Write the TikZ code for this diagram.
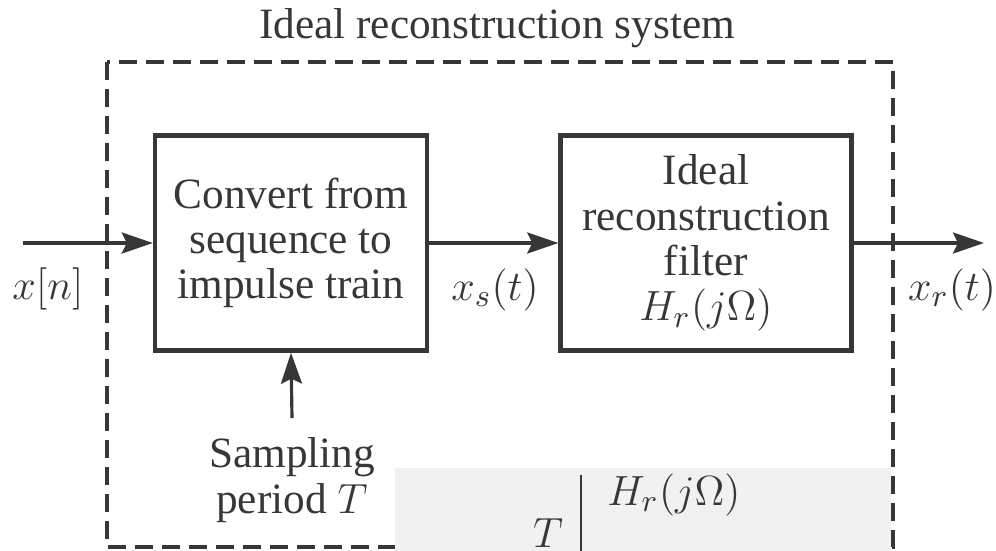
\documentclass[tikz,border=0pt]{standalone}
\usepackage{fontspec}
\setmainfont{Liberation Serif}
\usetikzlibrary{arrows.meta, positioning}
\definecolor{inkgray}{RGB}{55,55,55}
\definecolor{patchgray}{RGB}{241,241,241}

\begin{document}
\begin{tikzpicture}[
    x=0.01cm, y=-0.01cm,
    >={Stealth[length=3.1mm, width=2.1mm, inset=0.5mm]},
    every node/.style={text=inkgray, font=\fontsize{12.3}{12.9}\selectfont},
    block/.style={draw=inkgray, line width=1.2pt, align=center, minimum height=2.15cm, inner sep=0pt},
    sig/.style={->, draw=inkgray, line width=0.9pt},
    frame/.style={draw=inkgray, line width=1pt, dash pattern=on 1.8mm off 0.9mm},
]
    \useasboundingbox (0,0) rectangle (996,551);

    % Dashed system boundary
    \node (title) at (497,28) {Ideal reconstruction system};
    \draw[frame] (107,62) rectangle (893,547);

    % Blocks
    \node[block, minimum width=2.72cm] (conv) at (291,243) {Convert from\\sequence to\\impulse train};
    \node[block, minimum width=2.91cm] (filt) at (706,243) {Ideal\\reconstruction\\filter\\$H_r(j\Omega)$};

    % Signals
    \coordinate (in) at (23,243);
    \coordinate (out) at (984,243);
    \coordinate (samp) at (292,418);
    \draw[sig] (in) -- (conv);
    \draw[sig] (conv) -- (filt);
    \draw[sig] (filt) -- (out);
    \draw[sig] (samp) -- (conv.south);

    \node (xn) at (48,289) {$x[n]$};
    \node (xs) at (495,290) {$x_s(t)$};
    \node (xr) at (952,290) {$x_r(t)$};
    \node[align=center] (period) at (292,480) {Sampling\\period $T$};

    % Pasted fragment at the bottom
    \fill[patchgray] (395,468) rectangle (891,551);
    \draw[inkgray, line width=0.8pt] (581,475) -- (581,551);
    \node[anchor=base west] (hr) at (595,505) {$H_r(j\Omega)$};
    \node[anchor=base] (tt) at (548,547) {$T$};
\end{tikzpicture}
\end{document}
